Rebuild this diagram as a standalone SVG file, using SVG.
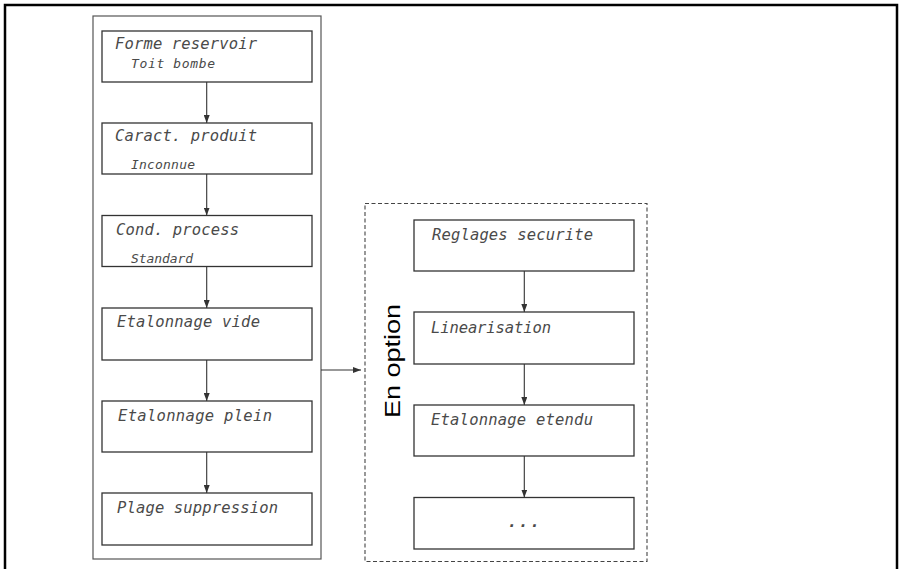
<svg xmlns="http://www.w3.org/2000/svg" width="902" height="569" viewBox="0 0 902 569">
<style>
.frame{fill:none;stroke:#000;stroke-width:2.5}
.cont{fill:none;stroke:#555;stroke-width:1.2}
.dash{fill:none;stroke:#444;stroke-width:1.1;stroke-dasharray:4 2.5}
.box{fill:#fff;stroke:#333;stroke-width:1.3}
.t{font-family:"DejaVu Sans Mono","Liberation Mono",monospace;font-style:italic;font-size:15.5px;fill:#4a4a4a}
.s{font-family:"DejaVu Sans Mono","Liberation Mono",monospace;font-style:italic;font-size:13px;fill:#4a4a4a}
.opt{font-family:"Liberation Sans",Arial,sans-serif;font-size:22px;fill:#000}
.c{stroke:#333;stroke-width:1.1;fill:none;marker-end:url(#ah)}
</style>
<defs>
<marker id="ah" viewBox="0 0 8 6" refX="8" refY="3" markerWidth="8" markerHeight="6" markerUnits="userSpaceOnUse" orient="auto">
<path d="M0,0 L8,3 L0,6 Z" fill="#333"/>
</marker>
</defs>
<rect width="902" height="569" fill="#fff"/>
<path class="frame" d="M5,575 L5,5 L897,5 L897,575"/>
<rect id="main-group" class="cont" x="93" y="16" width="228" height="543"/>
<rect id="option-group" class="dash" x="365" y="203.5" width="282" height="358"/>
<g id="n1"><rect class="box" x="102" y="31" width="210" height="51"/><text class="t" x="115" y="49" textLength="142" lengthAdjust="spacing">Forme reservoir</text><text class="s" x="131" y="68" textLength="84" lengthAdjust="spacing">Toit bombe</text></g>
<g id="n2"><rect class="box" x="102" y="123" width="210" height="51"/><text class="t" x="115" y="141" textLength="142" lengthAdjust="spacing">Caract. produit</text><text class="s" x="131" y="169" textLength="64" lengthAdjust="spacing">Inconnue</text></g>
<g id="n3"><rect class="box" x="102" y="215.5" width="210" height="51"/><text class="t" x="116" y="235" textLength="123" lengthAdjust="spacing">Cond. process</text><text class="s" x="131" y="263" textLength="62" lengthAdjust="spacing">Standard</text></g>
<g id="n4"><rect class="box" x="102" y="308" width="210" height="52"/><text class="t" x="117" y="327" textLength="143" lengthAdjust="spacing">Etalonnage vide</text></g>
<g id="n5"><rect class="box" x="102" y="401" width="210" height="51"/><text class="t" x="118" y="420.5" textLength="154" lengthAdjust="spacing">Etalonnage plein</text></g>
<g id="n6"><rect class="box" x="102" y="493" width="210" height="52"/><text class="t" x="117" y="512.5" textLength="161" lengthAdjust="spacing">Plage suppression</text></g>
<g id="r1"><rect class="box" x="414" y="220" width="220" height="51"/><text class="t" x="432" y="239.5" textLength="161" lengthAdjust="spacing">Reglages securite</text></g>
<g id="r2"><rect class="box" x="414" y="312" width="220" height="52"/><text class="t" x="431" y="333" textLength="120" lengthAdjust="spacing">Linearisation</text></g>
<g id="r3"><rect class="box" x="414" y="405" width="220" height="51"/><text class="t" x="431" y="425" textLength="162" lengthAdjust="spacing">Etalonnage etendu</text></g>
<g id="r4"><rect class="box" x="414" y="497.5" width="220" height="51.5"/><text class="t" x="523.5" y="527" text-anchor="middle" font-weight="bold" textLength="32" lengthAdjust="spacing">...</text></g>
<g id="label"><text class="opt" transform="translate(400,418) rotate(-90)" textLength="114" lengthAdjust="spacingAndGlyphs">En option</text></g>
<g id="connectors">
<line class="c" x1="206.7" y1="82" x2="206.7" y2="123"/>
<line class="c" x1="206.7" y1="174" x2="206.7" y2="215.5"/>
<line class="c" x1="206.7" y1="266.5" x2="206.7" y2="308"/>
<line class="c" x1="206.7" y1="360" x2="206.7" y2="401"/>
<line class="c" x1="206.7" y1="452" x2="206.7" y2="493"/>
<line class="c" x1="321" y1="370" x2="361" y2="370"/>
<line class="c" x1="524.3" y1="271" x2="524.3" y2="312"/>
<line class="c" x1="524.3" y1="364" x2="524.3" y2="405"/>
<line class="c" x1="524.3" y1="456" x2="524.3" y2="497.5"/>
</g>
</svg>
